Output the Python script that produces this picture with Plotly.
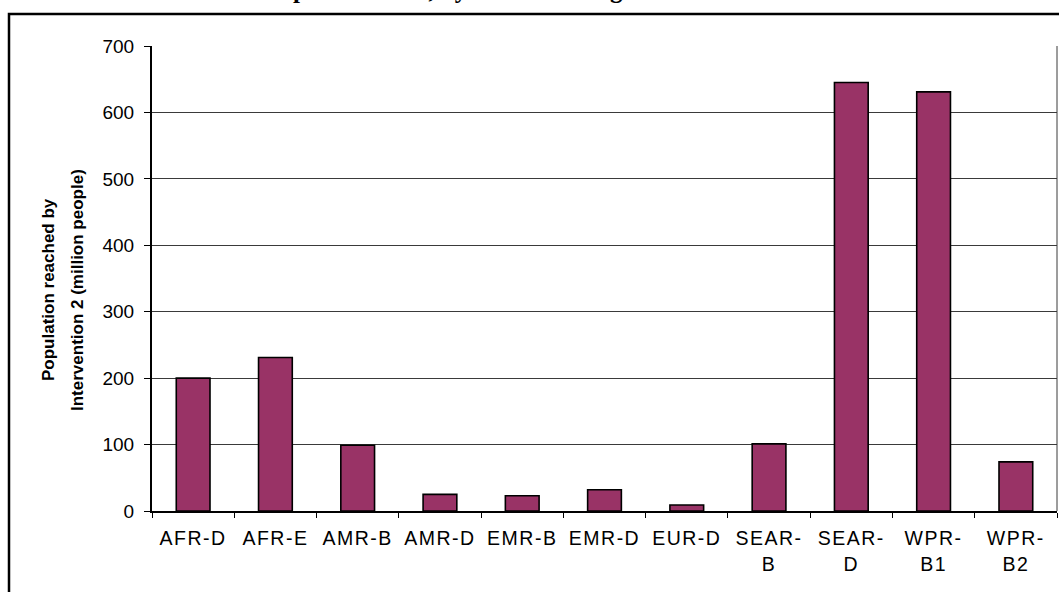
import plotly.graph_objects as go

categories = ["AFR-D", "AFR-E", "AMR-B", "AMR-D", "EMR-B", "EMR-D", "EUR-D",
              "SEAR-<br>B", "SEAR-<br>D", "WPR-<br>B1", "WPR-<br>B2"]
values = [200, 231, 99, 25, 23, 32, 9, 101, 645, 631, 74]
y_ticks = [0, 100, 200, 300, 400, 500, 600, 700]
y_title_lines = ["Population reached by", "Intervention 2 (million people)"]
title_text = "the Millennium Development Goals, by world sub-region"

W, H = 1059, 592
L, R, T, B = 152, 2, 46, 81
PW, PH = W - L - R, H - T - B

def fx(px):
    return (px - L) / PW

def fy(py):
    return 1 - (py - T) / PH

fig = go.Figure(go.Bar(
    x=categories, y=values,
    marker=dict(color="#993366", line=dict(color="black", width=1.6)),
    width=0.41,
))

fig.update_layout(
    width=W, height=H,
    margin=dict(l=L, r=R, t=T, b=B, pad=0),
    paper_bgcolor="white", plot_bgcolor="white",
    showlegend=False,
    font=dict(family="Liberation Sans, Arial", color="black"),
)

fig.update_yaxes(
    range=[0, 700], tickvals=y_ticks, ticktext=[str(v) for v in y_ticks],
    showgrid=True, gridcolor="#3a3a3a", gridwidth=1,
    showline=True, linecolor="black", linewidth=2,
    ticks="outside", ticklen=6, tickwidth=1, tickcolor="black",
    tickfont=dict(size=19, family="Liberation Sans, Arial", color="black"),
    ticklabelstandoff=6, zeroline=False, fixedrange=True,
)
fig.update_xaxes(
    showgrid=False, showline=True, linecolor="black", linewidth=2,
    ticks="outside", ticklen=5, tickwidth=1, tickcolor="black",
    tickson="boundaries",
    tickfont=dict(size=19.5, family="Liberation Sans, Arial", color="black"),
    ticklabelstandoff=9, fixedrange=True,
)

# plot-area right border
fig.add_shape(type="line", xref="paper", yref="paper", x0=1, x1=1, y0=0, y1=1,
              line=dict(color="#3a3a3a", width=1))
# outer chart frame (partly outside the view)
fig.add_shape(type="rect", xref="paper", yref="paper",
              x0=fx(9), x1=fx(1070), y0=fy(14), y1=fy(620),
              line=dict(color="black", width=2.5), fillcolor="rgba(0,0,0,0)")

# y-axis title in two lines
for txt, px in zip(y_title_lines, [48, 77]):
    fig.add_annotation(text="<b>" + txt + "</b>", xref="paper", yref="paper",
                       x=fx(px), y=fy(290),
                       textangle=-90, showarrow=False, xanchor="center", yanchor="middle",
                       font=dict(size=17, family="Liberation Sans, Arial", color="black"))

# cut-off document title at the very top
fig.add_annotation(text="<b>" + title_text + "</b>", xref="paper", yref="paper",
                   x=fx(658), y=fy(-11), xanchor="right", yanchor="middle", showarrow=False,
                   font=dict(size=25, family="Liberation Serif, Times New Roman", color="black"))

post = (
    "document.body.style.margin='0';document.body.style.overflow='hidden';"
    "document.querySelectorAll('.xtick text').forEach(function(t){t.style.letterSpacing='1.5px';});"
)
fig.write_html("out.html", post_script=post, config={"displayModeBar": False})
